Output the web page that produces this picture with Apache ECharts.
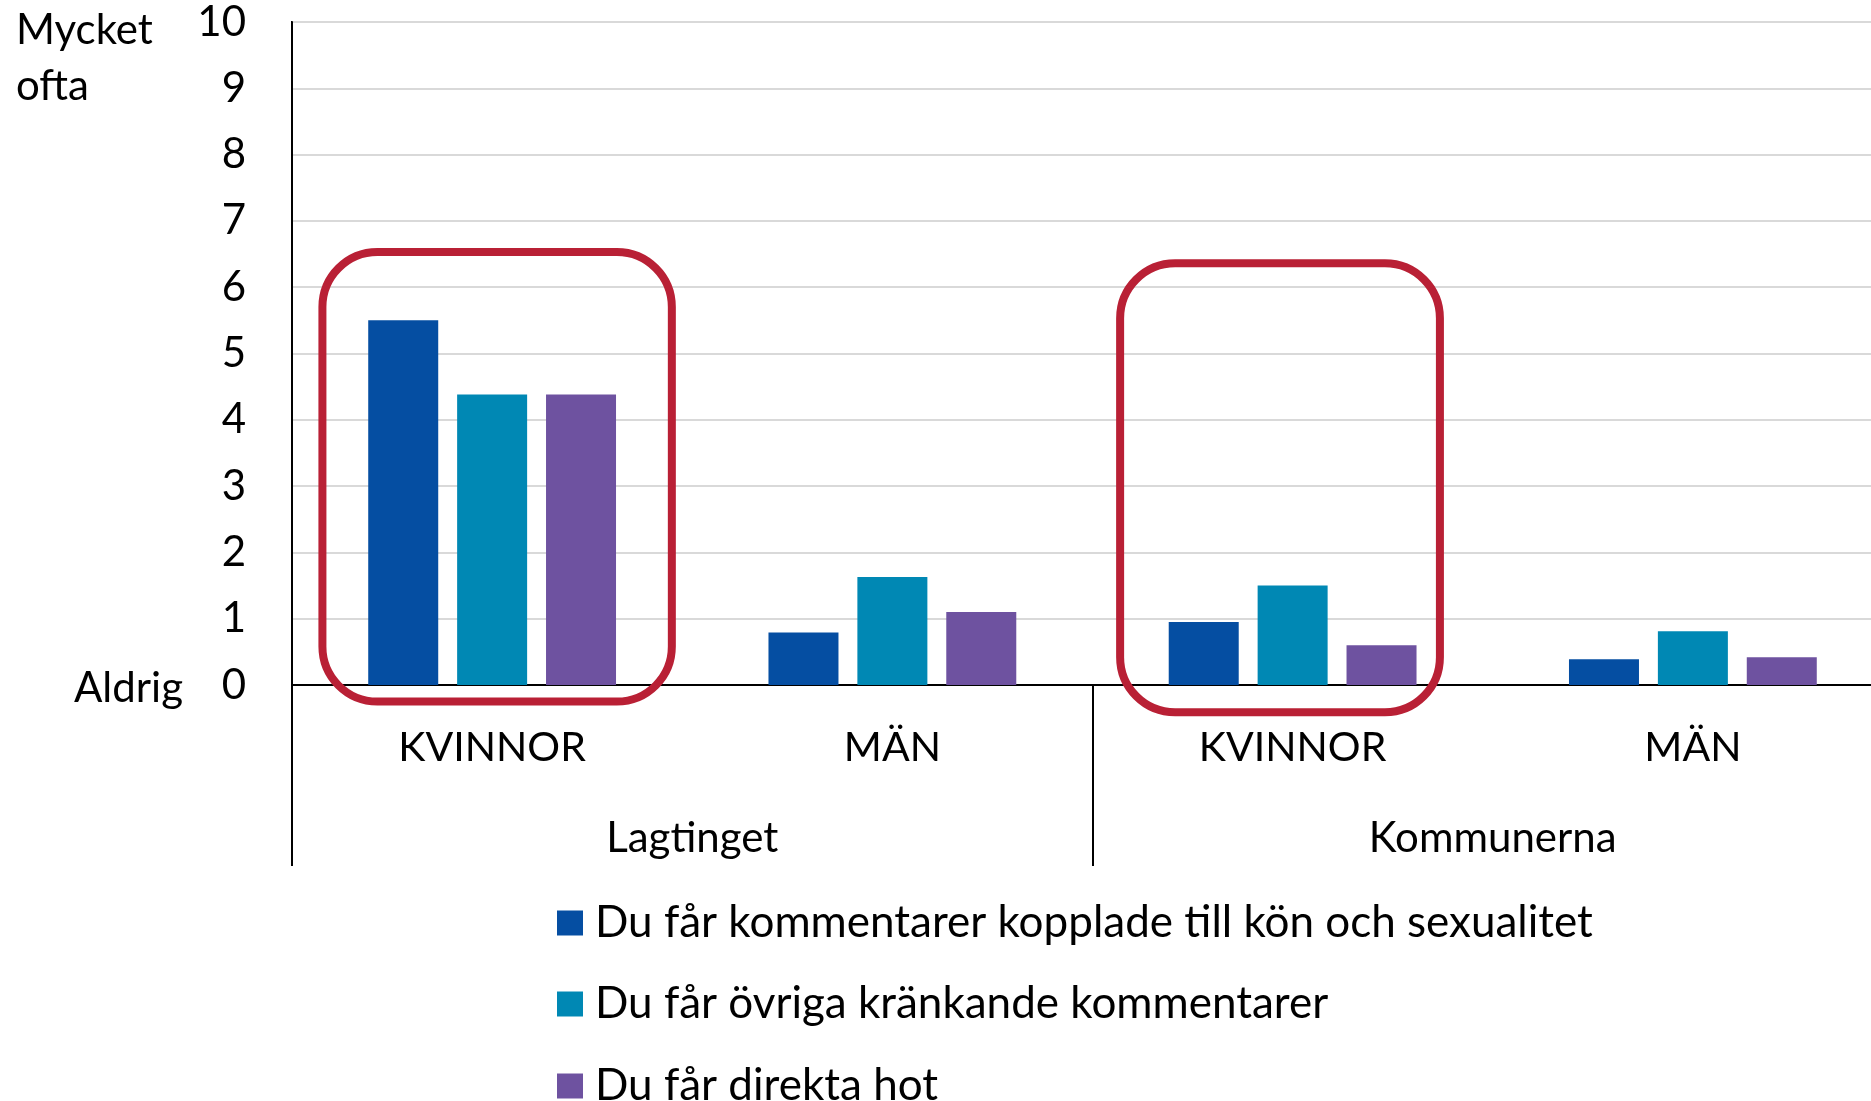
<!DOCTYPE html>
<html>
<head>
<meta charset="utf-8">
<script src="https://cdn.jsdelivr.net/npm/echarts@6/dist/echarts.min.js"></script>
<style>
html,body{margin:0;padding:0;background:#fff;}
#chart{width:1871px;height:1101px;}
</style>
</head>
<body>
<div id="chart"></div>
<script>
// ---- data ----
const categories = ['KVINNOR', 'MÄN', 'KVINNOR', 'MÄN'];
const groups = ['Lagtinget', 'Kommunerna'];
const seriesNames = [
  'Du får kommentarer kopplade till kön och sexualitet',
  'Du får övriga kränkande kommentarer',
  'Du får direkta hot'
];
const konSexualitet = [5.5, 0.79, 0.95, 0.39];
const ovrigaKrankande = [4.38, 1.63, 1.5, 0.81];
const direktaHot = [4.38, 1.1, 0.6, 0.42];
const yTopLabel = 'Mycket\nofta';
const yBottomLabel = 'Aldrig';
// highlighted categories (annotation boxes, in data units)
const highlightCategory = [0, 2];
const highlightTopValue = [6.53, 6.36];
const highlightBottomValue = [-0.25, -0.41];
const highlightLeftOffset = [-0.424, -0.431];   // in category widths from center
const highlightRightOffset = [0.449, 0.368];

const FONT = 'Lato';
const colors = ['#054EA2', '#0088B4', '#6E52A0'];

const chart = echarts.init(document.getElementById('chart'), null, {renderer: 'canvas'});

const seriesData = [konSexualitet, ovrigaKrankande, direktaHot];
const legendTops = [896, 977, 1059];

chart.setOption({
  animation: false,
  backgroundColor: '#fff',
  color: colors,
  textStyle: {fontFamily: FONT},
  grid: {
    left: 292, top: 22, width: 1601, height: 663,
    outerBoundsMode: 'none',
    show: true, borderColor: '#000', borderWidth: 2, containLabel: false
  },
  legend: seriesNames.map((name, i) => ({
    orient: 'vertical',
    left: 552, top: legendTops[i],
    itemWidth: 26, itemHeight: 25,
    icon: 'rect',
    textStyle: {fontFamily: FONT, fontSize: 44, color: '#000', padding: [0, 0, 0, 7]},
    data: [name]
  })),
  xAxis: [
    {
      type: 'category',
      data: categories,
      position: 'bottom',
      axisLine: {show: true, lineStyle: {color: '#000', width: 2}},
      axisTick: {show: false},
      axisLabel: {fontFamily: FONT, fontSize: 41, color: '#000', margin: 42, interval: 0}
    },
    {
      type: 'category',
      data: groups,
      position: 'bottom',
      axisLine: {show: false},
      axisTick: {show: true, length: 181, interval: 0, lineStyle: {color: '#000', width: 2}},
      axisLabel: {fontFamily: FONT, fontSize: 42, color: '#000', margin: 132, interval: 0},
      splitLine: {show: false}
    }
  ],
  yAxis: {
    type: 'value',
    min: 0, max: 10, interval: 1,
    axisLine: {show: true, lineStyle: {color: '#000', width: 2}},
    axisTick: {show: false},
    axisLabel: {fontFamily: FONT, fontSize: 42, color: '#000', margin: 46},
    splitLine: {show: true, lineStyle: {color: '#d9d9d9', width: 2}}
  },
  series: seriesNames.map((name, i) => ({
    name: name,
    type: 'bar',
    xAxisIndex: 0,
    data: seriesData[i],
    barWidth: 70,
    barGap: '27%',
    itemStyle: {color: colors[i]}
  }))
});

// annotation graphics computed from the axes
const catW = chart.convertToPixel({xAxisIndex: 0}, 1) - chart.convertToPixel({xAxisIndex: 0}, 0);
const graphics = [];
highlightCategory.forEach((c, i) => {
  const cx = chart.convertToPixel({xAxisIndex: 0}, c);
  const yTop = chart.convertToPixel({yAxisIndex: 0}, highlightTopValue[i]);
  const yBot = chart.convertToPixel({yAxisIndex: 0}, highlightBottomValue[i]);
  const x0 = cx + highlightLeftOffset[i] * catW;
  const x1 = cx + highlightRightOffset[i] * catW;
  graphics.push({
    type: 'rect',
    shape: {x: x0, y: yTop, width: x1 - x0, height: yBot - yTop, r: 55},
    style: {fill: 'none', stroke: '#B92035', lineWidth: 8},
    z: 100
  });
});
const yTopPx = chart.convertToPixel({yAxisIndex: 0}, 10);
const y0Px = chart.convertToPixel({yAxisIndex: 0}, 0);
graphics.push({
  type: 'text',
  left: 16, top: yTopPx - 20,
  style: {text: yTopLabel, fontFamily: FONT, fontSize: 42, lineHeight: 56, fill: '#000', textAlign: 'left', textVerticalAlign: 'top'},
  z: 100
});
graphics.push({
  type: 'text',
  x: 183, y: y0Px + 3,
  style: {text: yBottomLabel, fontFamily: FONT, fontSize: 42, fill: '#000', align: 'right', verticalAlign: 'middle'},
  z: 100
});
chart.setOption({graphic: graphics});
</script>
</body>
</html>
